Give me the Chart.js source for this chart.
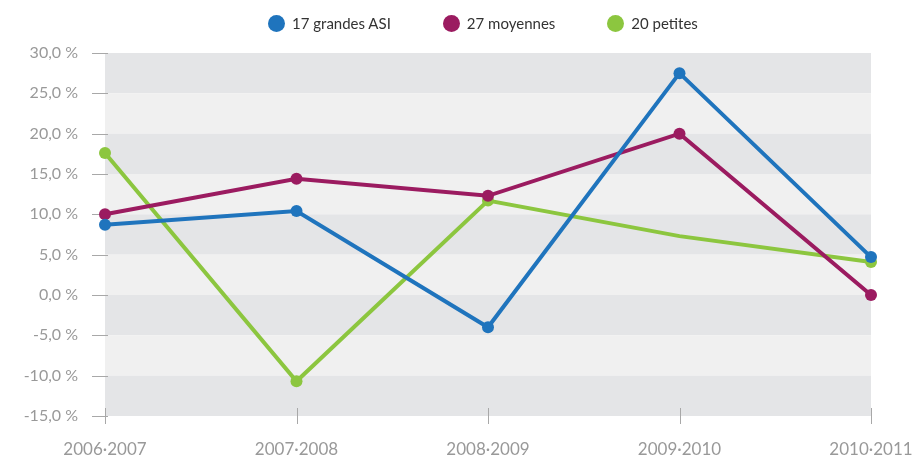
<!DOCTYPE html>
<html lang="fr">
<head>
<meta charset="UTF-8">
<title>Évolution par taille d'ASI</title>
<script src="https://cdn.jsdelivr.net/npm/chart.js"></script>
<style>
    html, body { margin: 0; padding: 0; background: #fff; }
    #wrap { position: relative; width: 919px; height: 459px; }
    #chart { display: block; }
    #legend {
        position: absolute; top: 14px; left: 268px;
        display: flex; align-items: center;
        font-family: Lato, "Open Sans", sans-serif; font-size: 15px; color: #333;
    }
    #legend .item { display: flex; align-items: center; margin-right: 52px; }
    #legend .dot { width: 17px; height: 17px; border-radius: 50%; margin-right: 7px; }
</style>
</head>
<body>
<div id="wrap">
    <canvas id="chart" width="919" height="459"></canvas>
    <div id="legend"></div>
</div>
<script>
    const periods = ['2006·2007', '2007·2008', '2008·2009', '2009·2010', '2010·2011'];
    const seriesNames = ['17 grandes ASI', '27 moyennes', '20 petites'];
    const grandes = [8.7, 10.4, -4.0, 27.5, 4.7];
    const moyennes = [10.0, 14.4, 12.3, 20.0, 0.0];
    const petites = [17.6, -10.7, 11.7, 7.3, 4.1];
    const colors = ['#1f74bd', '#9b1b60', '#8cc63f'];

    // grey bands behind the plot + short tick marks on both axes
    const bandsPlugin = {
        id: 'bands',
        beforeDatasetsDraw(chart) {
            const { ctx, chartArea: a, scales: { x, y } } = chart;
            ctx.save();
            const ticks = y.ticks.map(t => t.value).sort((p, q) => q - p);
            for (let i = 0; i < ticks.length - 1; i++) {
                const y1 = y.getPixelForValue(ticks[i]);
                const y2 = y.getPixelForValue(ticks[i + 1]);
                ctx.fillStyle = i % 2 === 0 ? '#e4e5e7' : '#f0f0f0';
                ctx.fillRect(a.left, y1, a.right - a.left, y2 - y1);
            }
            ctx.strokeStyle = '#a8a8a8';
            ctx.lineWidth = 1;
            ctx.beginPath();
            ticks.forEach(v => {
                const py = Math.round(y.getPixelForValue(v)) + 0.5;
                ctx.moveTo(a.left - 13, py);
                ctx.lineTo(a.left + 3, py);
            });
            periods.forEach((p, i) => {
                const px = Math.round(x.getPixelForValue(i)) + 0.5;
                ctx.moveTo(px, a.bottom - 8);
                ctx.lineTo(px, a.bottom + 8);
            });
            ctx.stroke();
            ctx.restore();
        }
    };

    function lineSet(label, data, color) {
        return {
            label: label,
            data: data,
            borderColor: color,
            backgroundColor: color,
            borderWidth: 4,
            pointRadius: 6,
            pointHoverRadius: 6,
            pointBorderWidth: 0,
            tension: 0,
            clip: false
        };
    }

    const datasets = [
        lineSet(seriesNames[0], grandes, colors[0]),
        lineSet(seriesNames[1], moyennes, colors[1]),
        lineSet(seriesNames[2], petites, colors[2])
    ];
    // no marker on the 2009-2010 point of the green series
    datasets[2].pointRadius = [6, 6, 6, 0, 6];

    const legend = document.getElementById('legend');
    seriesNames.forEach((name, i) => {
        const item = document.createElement('div');
        item.className = 'item';
        item.innerHTML = '<span class="dot" style="background:' + colors[i] + '"></span>' + name;
        legend.appendChild(item);
    });

    new Chart(document.getElementById('chart'), {
        type: 'line',
        data: { labels: periods, datasets: datasets },
        plugins: [bandsPlugin],
        options: {
            responsive: false,
            animation: false,
            layout: { padding: { top: 53, right: 48, left: 0, bottom: 0 } },
            plugins: {
                legend: { display: false },
                tooltip: { enabled: false }
            },
            scales: {
                x: {
                    offset: false,
                    grid: { display: false },
                    border: { display: false },
                    ticks: {
                        color: '#999',
                        font: { family: 'Lato', size: 17 },
                        padding: 15,
                        maxRotation: 0,
                        autoSkip: false
                    },
                    afterFit(scale) {
                        scale.height = 43;
                        // let the end labels overhang instead of shrinking the plot
                        scale.paddingLeft = 0;
                        scale.paddingRight = 0;
                    }
                },
                y: {
                    min: -15,
                    max: 30,
                    grid: { display: false, drawTicks: false },
                    border: { display: false },
                    ticks: {
                        stepSize: 5,
                        color: '#999',
                        font: { family: 'Lato', size: 16 },
                        padding: 27,
                        callback: v => v.toFixed(1).replace('.', ',') + ' %'
                    },
                    afterFit(scale) { scale.width = 105; }
                }
            }
        }
    });
</script>
</body>
</html>
